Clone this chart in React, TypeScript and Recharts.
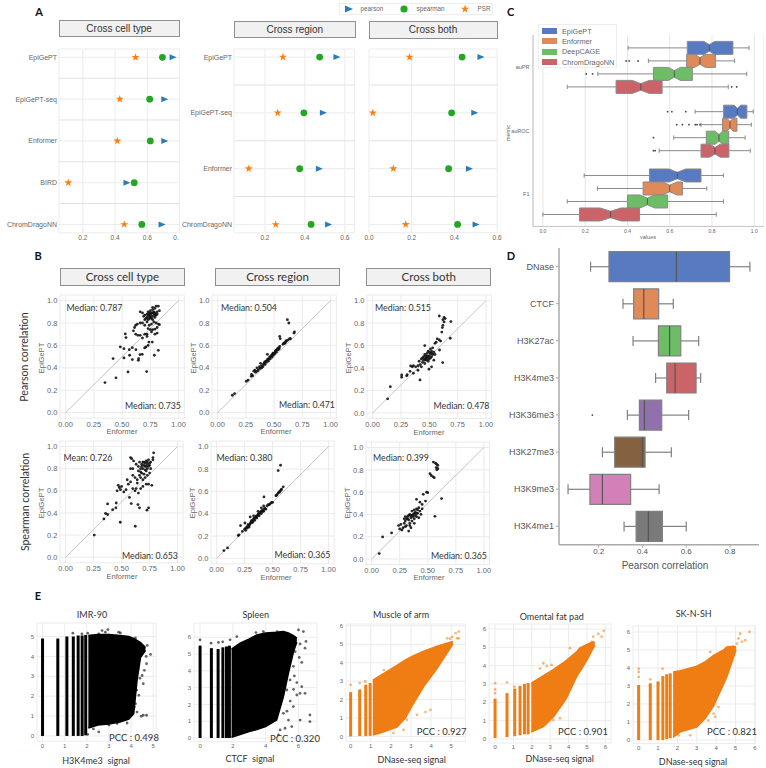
import {
  Area,
  Bar,
  BarChart,
  CartesianGrid,
  ComposedChart,
  Line,
  ReferenceLine,
  Scatter,
  ScatterChart,
  Symbols,
  XAxis,
  YAxis,
} from "recharts";

const ARIAL = "'Liberation Sans', Arial, sans-serif";
const CALIBRI = "Lato, 'Open Sans', sans-serif";
const BLUE = "#2b7bba";
const GREEN = "#22a722";
const STAR = "#ff7f0e";
const ORANGE = "#ef7d14";

// Panel A
const cellMethods = ["EpiGePT", "EpiGePT-seq", "Enformer", "BIRD", "ChromDragoNN"];
const cellPearson = [0.758, 0.707, 0.707, 0.472, 0.69];
const cellSpearman = [0.694, 0.615, 0.619, 0.519, 0.566];
const cellPsr = [0.527, 0.429, 0.414, 0.11, 0.457];
const otherMethods = ["EpiGePT", "EpiGePT-seq", "Enformer", "ChromDragoNN"];
const regionPearson = [0.559, 0.491, 0.471, 0.517];
const regionSpearman = [0.474, 0.395, 0.374, 0.431];
const regionPsr = [0.29, 0.264, 0.119, 0.254];
const bothPearson = [0.523, 0.494, 0.469, 0.5];
const bothSpearman = [0.436, 0.387, 0.373, 0.415];
const bothPsr = [0.19, 0.018, 0.114, 0.172];

// Panel B, [Enformer, EpiGePT]
const pearsonCell = [
  [0.348, 0.268], [0.445, 0.31], [0.552, 0.363], [0.717, 0.366], [0.42, 0.482], [0.484, 0.586], [0.516, 0.571],
  [0.528, 0.702], [0.534, 0.67], [0.516, 0.488], [0.563, 0.562], [0.566, 0.512], [0.59, 0.58], [0.622, 0.562],
  [0.59, 0.473], [0.643, 0.467], [0.646, 0.482], [0.658, 0.518], [0.678, 0.52], [0.699, 0.577], [0.711, 0.586],
  [0.73, 0.6], [0.737, 0.63], [0.767, 0.63], [0.785, 0.512], [0.82, 0.556], [0.72, 0.68], [0.76, 0.72],
  [0.62, 0.7], [0.64, 0.69], [0.66, 0.69], [0.68, 0.665], [0.7, 0.7], [0.72, 0.7], [0.79, 0.7], [0.81, 0.71],
  [0.6, 0.73], [0.61, 0.76], [0.62, 0.78], [0.635, 0.79], [0.66, 0.8], [0.68, 0.8], [0.7, 0.78], [0.72, 0.81],
  [0.73, 0.75], [0.75, 0.74], [0.77, 0.74], [0.79, 0.745], [0.81, 0.76], [0.83, 0.785], [0.74, 0.78], [0.76, 0.79],
  [0.78, 0.81], [0.8, 0.8], [0.82, 0.79], [0.66, 0.9], [0.68, 0.89], [0.7, 0.87], [0.72, 0.85], [0.7, 0.83],
  [0.73, 0.83], [0.74, 0.86], [0.75, 0.88], [0.76, 0.84], [0.77, 0.86], [0.78, 0.88], [0.79, 0.85], [0.8, 0.87],
  [0.73, 0.9], [0.75, 0.91], [0.77, 0.92], [0.79, 0.93], [0.81, 0.9], [0.83, 0.91], [0.8, 0.95], [0.77, 0.94],
  [0.82, 0.95], [0.72, 0.88], [0.76, 0.89], [0.78, 0.9], [0.74, 0.89], [0.79, 0.89], [0.81, 0.88], [0.69, 0.86],
  [0.71, 0.84], [0.75, 0.85], [0.77, 0.83], [0.73, 0.87], [0.75, 0.87], [0.77, 0.89], [0.79, 0.87], [0.74, 0.84],
];
const pearsonRegion = [
  [0.13, 0.155], [0.15, 0.17], [0.254, 0.28], [0.27, 0.29], [0.298, 0.324], [0.3, 0.34], [0.32, 0.37], [0.335, 0.36],
  [0.348, 0.4], [0.36, 0.38], [0.372, 0.393], [0.38, 0.4], [0.39, 0.42], [0.4, 0.41], [0.41, 0.44], [0.42, 0.43],
  [0.425, 0.46], [0.43, 0.45], [0.44, 0.47], [0.45, 0.46], [0.46, 0.497], [0.465, 0.48], [0.47, 0.5], [0.48, 0.495],
  [0.485, 0.52], [0.49, 0.51], [0.495, 0.53], [0.5, 0.52], [0.51, 0.55], [0.519, 0.557], [0.52, 0.54], [0.53, 0.57],
  [0.535, 0.56], [0.54, 0.58], [0.55, 0.59], [0.578, 0.61], [0.59, 0.62], [0.6, 0.63], [0.61, 0.64], [0.637, 0.66],
  [0.617, 0.83], [0.63, 0.8], [0.549, 0.68], [0.554, 0.66], [0.675, 0.71], [0.68, 0.72], [0.44, 0.52], [0.38, 0.44],
  [0.31, 0.33], [0.33, 0.38], [0.35, 0.37], [0.37, 0.41], [0.39, 0.4], [0.405, 0.43], [0.415, 0.45], [0.435, 0.46],
  [0.445, 0.48], [0.455, 0.48], [0.475, 0.51], [0.49, 0.53], [0.505, 0.53], [0.515, 0.54], [0.525, 0.56], [0.545, 0.57],
  [0.585, 0.62], [0.595, 0.62], [0.605, 0.64], [0.625, 0.65], [0.645, 0.66],
];
const pearsonBoth = [
  [0.132, 0.125], [0.156, 0.234], [0.256, 0.318], [0.256, 0.338], [0.3, 0.33], [0.305, 0.34], [0.418, 0.294],
  [0.335, 0.418], [0.359, 0.353], [0.36, 0.42], [0.38, 0.41], [0.4, 0.42], [0.41, 0.46], [0.42, 0.43], [0.43, 0.48],
  [0.44, 0.45], [0.45, 0.47], [0.45, 0.5], [0.46, 0.44], [0.46, 0.52], [0.47, 0.49], [0.47, 0.47], [0.48, 0.5],
  [0.48, 0.53], [0.49, 0.46], [0.49, 0.55], [0.5, 0.51], [0.5, 0.48], [0.51, 0.53], [0.51, 0.57], [0.52, 0.5],
  [0.52, 0.55], [0.53, 0.52], [0.53, 0.58], [0.54, 0.47], [0.54, 0.54], [0.55, 0.62], [0.56, 0.63], [0.497, 0.389],
  [0.52, 0.41], [0.59, 0.56], [0.618, 0.448], [0.46, 0.6], [0.588, 0.65], [0.6, 0.64], [0.61, 0.72], [0.615, 0.76],
  [0.62, 0.78], [0.588, 0.863], [0.62, 0.83], [0.63, 0.85], [0.63, 0.81], [0.64, 0.84], [0.69, 0.813], [0.685, 0.665],
  [0.35, 0.41], [0.33, 0.37], [0.4, 0.38], [0.43, 0.41], [0.55, 0.52], [0.57, 0.66],
  [0.44, 0.49], [0.46, 0.48], [0.48, 0.48], [0.5, 0.54], [0.52, 0.53], [0.47, 0.51], [0.49, 0.5], [0.51, 0.49],
];
const spearmanCell = [
  [0.256, 0.2], [0.342, 0.346], [0.357, 0.395], [0.375, 0.386], [0.375, 0.482], [0.42, 0.43], [0.449, 0.446],
  [0.452, 0.49], [0.488, 0.316], [0.622, 0.28], [0.726, 0.425], [0.741, 0.446], [0.586, 0.485], [0.646, 0.476],
  [0.66, 0.446], [0.77, 0.65], [0.786, 0.943], [0.58, 0.9], [0.59, 0.89], [0.607, 0.87], [0.58, 0.8], [0.6, 0.8],
  [0.46, 0.6], [0.47, 0.65], [0.48, 0.63], [0.49, 0.61], [0.5, 0.64], [0.52, 0.59], [0.54, 0.61], [0.57, 0.54],
  [0.56, 0.66], [0.58, 0.68], [0.6, 0.62], [0.62, 0.6], [0.63, 0.62], [0.65, 0.58], [0.67, 0.62], [0.69, 0.64],
  [0.72, 0.66], [0.74, 0.66], [0.55, 0.7], [0.62, 0.72], [0.64, 0.7], [0.65, 0.78], [0.66, 0.74], [0.67, 0.72],
  [0.68, 0.76], [0.69, 0.7], [0.7, 0.75], [0.71, 0.72], [0.72, 0.78], [0.73, 0.74], [0.75, 0.76], [0.76, 0.8],
  [0.63, 0.84], [0.65, 0.82], [0.66, 0.86], [0.67, 0.8], [0.68, 0.84], [0.69, 0.86], [0.7, 0.83], [0.71, 0.85],
  [0.72, 0.82], [0.72, 0.87], [0.73, 0.84], [0.74, 0.88], [0.75, 0.83], [0.76, 0.86], [0.78, 0.88], [0.78, 0.9],
  [0.67, 0.77], [0.69, 0.8], [0.71, 0.79], [0.73, 0.8], [0.64, 0.67], [0.6, 0.74],
  [0.68, 0.82], [0.7, 0.86], [0.71, 0.82], [0.73, 0.86], [0.74, 0.82], [0.75, 0.85],
];
const spearmanRegion = [
  [0.065, 0.069], [0.098, 0.093], [0.193, 0.203], [0.2, 0.21], [0.214, 0.293], [0.253, 0.316], [0.23, 0.24],
  [0.25, 0.26], [0.26, 0.25], [0.27, 0.28], [0.28, 0.3], [0.29, 0.28], [0.3, 0.31], [0.3, 0.37], [0.31, 0.33],
  [0.32, 0.32], [0.33, 0.35], [0.33, 0.38], [0.34, 0.34], [0.35, 0.37], [0.36, 0.36], [0.37, 0.39], [0.38, 0.38],
  [0.39, 0.41], [0.4, 0.4], [0.41, 0.43], [0.42, 0.42], [0.43, 0.45], [0.44, 0.44], [0.45, 0.47], [0.47, 0.48],
  [0.49, 0.5], [0.423, 0.549], [0.53, 0.56], [0.54, 0.57], [0.55, 0.585], [0.565, 0.6], [0.58, 0.62], [0.595, 0.64],
  [0.55, 0.785], [0.571, 0.833], [0.4, 0.45], [0.37, 0.42],
  [0.26, 0.27], [0.275, 0.27], [0.285, 0.29], [0.295, 0.3], [0.305, 0.32], [0.315, 0.34], [0.325, 0.33], [0.335, 0.36],
  [0.345, 0.36], [0.355, 0.38], [0.365, 0.38], [0.375, 0.4], [0.385, 0.4], [0.395, 0.42], [0.405, 0.42], [0.415, 0.42],
  [0.42, 0.47], [0.425, 0.44], [0.46, 0.48], [0.48, 0.49], [0.5, 0.5], [0.535, 0.565], [0.56, 0.59], [0.575, 0.61],
];
const spearmanBoth = [
  [0.068, 0.048], [0.098, 0.198], [0.178, 0.234], [0.55, 0.87], [0.57, 0.86], [0.58, 0.85], [0.59, 0.84], [0.575, 0.82],
  [0.59, 0.81], [0.58, 0.8], [0.52, 0.766], [0.53, 0.75], [0.545, 0.74], [0.558, 0.73], [0.623, 0.542], [0.564, 0.383],
  [0.49, 0.6], [0.5, 0.595], [0.46, 0.58], [0.4, 0.535], [0.43, 0.51], [0.45, 0.49], [0.48, 0.52], [0.24, 0.3],
  [0.25, 0.27], [0.26, 0.31], [0.28, 0.28], [0.29, 0.36], [0.29, 0.32], [0.3, 0.38], [0.3, 0.34], [0.31, 0.3],
  [0.31, 0.36], [0.32, 0.38], [0.33, 0.25], [0.33, 0.35], [0.34, 0.4], [0.34, 0.32], [0.35, 0.37], [0.36, 0.43],
  [0.36, 0.34], [0.37, 0.4], [0.38, 0.44], [0.38, 0.36], [0.39, 0.42], [0.4, 0.38], [0.4, 0.45], [0.41, 0.41],
  [0.42, 0.46], [0.42, 0.37], [0.43, 0.43], [0.44, 0.4], [0.45, 0.45], [0.34, 0.3], [0.36, 0.39], [0.38, 0.32],
  [0.27, 0.26], [0.3, 0.29], [0.35, 0.28],
  [0.32, 0.36], [0.33, 0.39], [0.35, 0.39], [0.37, 0.38], [0.38, 0.41], [0.39, 0.39], [0.4, 0.41], [0.41, 0.44],
];

// Panel C
const metricNames = ["auPR", "auROC", "F1"];
const cModels = ["EpiGePT", "Enformer", "DeepCAGE", "ChromDragoNN"];
const cColors = ["#587ac0", "#e08a5a", "#6dbd66", "#cb6468"];
const epiBoxes = [[0.403, 0.683, 0.787, 0.899, 0.975], [0.72, 0.855, 0.92, 0.965, 0.995], [0.195, 0.504, 0.636, 0.748, 0.854]];
const enfBoxes = [[0.499, 0.68, 0.743, 0.816, 0.907], [0.748, 0.85, 0.885, 0.918, 0.986], [0.258, 0.474, 0.6, 0.66, 0.775]];
const cageBoxes = [[0.26, 0.523, 0.622, 0.707, 0.964], [0.619, 0.773, 0.833, 0.879, 0.957], [0.115, 0.4, 0.494, 0.59, 0.854]];
const chromBoxes = [[0.115, 0.346, 0.463, 0.564, 0.877], [0.55, 0.748, 0.814, 0.88, 0.981], [0.0, 0.173, 0.32, 0.457, 0.82]];
const epiNotch = [0.025, 0.015, 0.04];
const enfNotch = [0.025, 0.015, 0.035];
const cageNotch = [0.028, 0.018, 0.035];
const chromNotch = [0.04, 0.025, 0.05];
const epiOut = [[], [0.59, 0.61, 0.676], []];
const enfOut = [[0.394, 0.408, 0.45], [0.633, 0.66, 0.691, 0.721, 0.729, 0.743], []];
const cageOut = [[0.205, 0.235], [0.523], []];
const chromOut = [[0.893, 0.917], [0.523, 0.531], []];

// Panel D
const marks = ["DNase", "CTCF", "H3K27ac", "H3K4me3", "H3K36me3", "H3K27me3", "H3K9me3", "H3K4me1"];
const markColors = ["#587ac0", "#e08a5a", "#6dbd66", "#cb6468", "#9170ae", "#84613f", "#d380b8", "#7a7a7a"];
const markBoxes = [
  [0.163, 0.247, 0.555, 0.798, 0.891],
  [0.311, 0.36, 0.406, 0.474, 0.541],
  [0.357, 0.473, 0.524, 0.575, 0.657],
  [0.46, 0.511, 0.549, 0.645, 0.666],
  [0.331, 0.386, 0.409, 0.488, 0.611],
  [0.217, 0.273, 0.4, 0.412, 0.532],
  [0.06, 0.16, 0.217, 0.346, 0.476],
  [0.316, 0.371, 0.427, 0.491, 0.6],
];
const markOut = [[], [], [], [], [0.171], [], [], []];

// Panel E, dense clouds read as stripes + upper/lower envelope + stragglers
const imrStripes = [[0, 0, 4.9], [0.69, 0, 4.9], [1.1, 0, 5.0], [1.39, 0, 5.0], [1.61, 0, 5.05], [1.79, 0, 5.05], [1.95, 0.03, 5.08]];
const imrX = [2.07, 2.5, 3, 3.5, 3.9, 4.12, 4.27, 4.43, 4.65];
const imrLo = [0.4, 0.55, 0.6, 0.7, 0.85, 1.12, 2.8, 3.96, 4.3];
const imrHi = [5.05, 5.1, 5.1, 5.05, 5.0, 4.9, 4.8, 4.7, 4.45];
const imrOut = [
  [2.95, 5.35], [2.84, 5.22], [2.69, 5.3], [2.54, 5.13], [3.44, 5.22], [3.52, 5.18], [1.37, 5.17], [1.78, 5.13],
  [2.04, 5.17], [4.88, 4.1], [4.68, 4], [4.7, 3.63], [4.6, 3.3], [4.5, 3.04], [4.55, 2.63], [4.35, 2.04], [4.2, 1.62],
  [4.27, 1.2], [4.55, 1.04], [4.7, 1.04], [4.46, 0.99], [2.54, 0.2], [2.04, 0.08], [3.37, 0.62], [3.82, 0.65],
  [4.73, 4.55], [4.2, 4.93], [4.58, 4.46], [4.32, 3.4], [4.4, 2.9], [4.25, 2.3], [4.15, 1.45], [2.3, 0.35], [3, 0.55],
];
const spleenStripes = [[0, 0, 5.5], [0.69, 0, 5.35], [1.1, 0, 5.3], [1.39, 0, 5.4], [1.61, 0, 5.45], [1.79, 0, 5.5]];
const spleenX = [1.92, 2.44, 3, 3.46, 4, 4.67, 5.08, 5.39, 5.7, 5.9];
const spleenLo = [0.05, 0.2, 0.38, 0.5, 0.68, 1.07, 2.46, 3.86, 5.15, 5.7];
const spleenHi = [5.3, 5.65, 5.9, 6.14, 6.25, 6.3, 6.34, 6.25, 6.1, 5.95];
const spleenOut = [
  [3.41, 6.28], [3.86, 6.34], [4.7, 6.34], [6, 6.44], [6.3, 6.34], [6.46, 5.75], [6.4, 5.35], [6.1, 5.6], [5.8, 5.15],
  [1.83, 5.85], [2.24, 6.04], [6.2, 3.06], [6.1, 2.66], [5.9, 2.56], [6.4, 2.66], [6.7, 1.37], [6.7, 0.97], [6.1, 1.07],
  [5.59, 0.68], [5.18, 0.58], [4.88, 0.48], [5.69, 4.27], [5.49, 3.46], [5.29, 2.86], [5.69, 1.87], [5.08, 1.47],
  [5.39, 1.07], [4.78, 0.18], [0, 5.85], [0.67, 5.65], [1.12, 5.69], [1.38, 5.73], [6.05, 4.8], [5.75, 3.7], [5.5, 2.2],
  [6.2, 4.5], [5.3, 1.6], [5.7, 2.9], [5.9, 3.3],
];
const muscleStripes = [[0, 0, 2.4], [0.45, 0.02, 2.55], [0.75, 0.02, 2.8], [0.97, 0.03, 2.9]];
const muscleX = [1.1, 1.47, 2.3, 2.72, 3.13, 3.63, 4.3, 5.05, 5.08];
const muscleLo = [0.08, 0.18, 0.5, 1.0, 1.8, 2.7, 3.7, 4.96, 5.0];
const muscleHi = [3.05, 3.3, 3.85, 4.15, 4.38, 4.62, 4.9, 5.14, 5.1];
const muscleOut = [
  [5.38, 5.69], [5.22, 5.6], [5.3, 5.32], [5.38, 5.32], [4.8, 5.32], [3.97, 1.44], [3.72, 1.32], [3.3, 1.17], [2.8, 0.9],
  [2.13, 0.18], [2.63, 0.36], [0, 2.8], [0.45, 2.9], [0.73, 2.98], [1.65, 3.6], [5.05, 5.4], [4.95, 5.3],
];
const omentalStripes = [[0, 0.05, 2.2], [0.65, 0.1, 2.5], [1.07, 0.15, 2.75], [1.36, 0.2, 2.9], [1.6, 0.25, 3.0], [1.8, 0.25, 3.05]];
const omentalX = [1.97, 2.63, 3.17, 3.7, 3.9, 4.44, 4.6, 5, 5.34, 5.43];
const omentalLo = [0.38, 0.67, 1.2, 1.95, 2.25, 3.4, 3.65, 4.3, 4.95, 5.1];
const omentalHi = [3.05, 3.45, 3.78, 4.15, 4.3, 4.75, 4.95, 5.15, 5.3, 5.25];
const omentalOut = [
  [5.92, 5.9], [5.62, 5.73], [5.8, 5.58], [5.34, 5.58], [5.25, 5.3], [2.63, 4.13], [2.81, 3.98], [3.08, 4.04], [2.45, 3.85],
  [3.35, 3.85], [0, 3.04], [0.65, 3.09], [1.05, 2.85], [4.08, 4.95], [3.53, 1.13], [3.17, 1.04], [0, 2.5], [0, 2.7],
];
const sknshStripes = [[0, 0, 3.05], [0.6, 0, 3.15], [1, 0, 3.25], [1.25, 0, 3.55], [1.45, 0.05, 3.65], [1.63, 0.1, 3.7]];
const sknshX = [1.78, 2.15, 3, 3.44, 3.87, 4.38, 4.55, 4.9, 5.03];
const sknshLo = [0.15, 0.45, 0.72, 1.2, 1.9, 3.1, 3.5, 4.6, 5.0];
const sknshHi = [3.78, 3.85, 4.1, 4.35, 4.7, 5.0, 5.17, 5.2, 5.17];
const sknshOut = [
  [5.72, 6], [5.24, 5.9], [5.15, 5.63], [5.5, 5.54], [5.33, 5.45], [5.07, 5.35], [0, 3.96], [0, 3.78], [0, 3.5], [0.6, 3.37],
  [1.03, 3.13], [1.24, 3.96], [3.69, 4.89], [4.12, 1.83], [3.87, 1.46], [3.95, 1.28], [3.6, 1.09], [2.66, 0.26], [2.06, 0.26],
];

function Txt({ x, y, children, size = 8, color = "#333", font = ARIAL, rotate = 0, weight = 400 }: any) {
  return (
    <div
      style={{
        position: "absolute",
        left: x,
        top: y,
        transform: `translate(-50%, -50%) rotate(${rotate}deg)`,
        whiteSpace: "pre",
        fontFamily: font,
        fontSize: size,
        fontWeight: weight,
        color,
        lineHeight: 1,
      }}
    >
      {children}
    </div>
  );
}

function TitleBox({ x0, x1, y0, y1, children, size, font }: any) {
  return (
    <div
      style={{
        position: "absolute",
        left: x0,
        top: y0,
        width: x1 - x0,
        height: y1 - y0,
        boxSizing: "border-box",
        border: "1px solid #8f8f8f",
        background: "#f1f1f1",
        display: "flex",
        alignItems: "center",
        justifyContent: "center",
        fontFamily: font,
        fontSize: size,
        color: "#333",
      }}
    >
      {children}
    </div>
  );
}

const Triangle = (p: any) => (
  <polygon points={`${p.cx - 3.2},${p.cy - 3} ${p.cx + 3.8},${p.cy} ${p.cx - 3.2},${p.cy + 3}`} fill={BLUE} />
);
const Dot = (p: any) => <circle cx={p.cx} cy={p.cy} r={3.4} fill={GREEN} />;
const StarMark = (p: any) => <Symbols type="star" size={20} cx={p.cx} cy={p.cy} fill={STAR} />;

function DotPanel({ plot, domain, ticks, names, pearson, spearman, psr, clipLast, rowDomain }: any) {
  const [x0, y0, x1, y1] = plot;
  const l = 58;
  const b = 14;
  const t = 2;
  const r = 8;
  const rows = names.map((_: string, i: number) => i);
  const pts = (vals: number[]) => vals.map((v, i) => ({ x: v, y: i }));
  // the first panel's last label is cut by the neighbouring panel in the figure
  const xTick = (p: any) => {
    const cut = clipLast && p.payload.value === 0.8;
    return (
      <text x={p.x - (cut ? 3.5 : 0)} y={p.y + 5.5} textAnchor="middle" fontSize={6.5} fill="#666" fontFamily={ARIAL}>
        {cut ? "0." : p.payload.value.toFixed(1)}
      </text>
    );
  };
  return (
    <div style={{ position: "absolute", left: x0 - l, top: y0 - t }}>
      <ScatterChart width={x1 - x0 + l + r} height={y1 - y0 + t + b} margin={{ top: t, right: r, bottom: 0, left: 0 }}>
        <CartesianGrid stroke="#ececec" />
        <XAxis
          type="number"
          dataKey="x"
          domain={domain}
          ticks={ticks}
          allowDataOverflow
          height={b}
          axisLine={false}
          tickLine={false}
          tickSize={0}
          interval={0}
          tick={xTick}
        />
        <YAxis
          type="number"
          dataKey="y"
          reversed
          domain={rowDomain}
          ticks={rows}
          interval={0}
          width={l}
          axisLine={false}
          tickLine={false}
          tickSize={0}
          tickFormatter={(i: number) => names[i]}
          tick={{ fontSize: 7, fill: "#666", fontFamily: ARIAL }}
          tickMargin={2}
        />
        {rows.slice(0, -1).map((i: number) => (
          <ReferenceLine key={i} y={i + 0.5} stroke="#e2e2e2" />
        ))}
        <Scatter data={pts(pearson)} shape={Triangle} isAnimationActive={false} />
        <Scatter data={pts(spearman)} shape={Dot} isAnimationActive={false} />
        <Scatter data={pts(psr)} shape={StarMark} isAnimationActive={false} />
      </ScatterChart>
    </div>
  );
}

const SmallDot = (p: any) => <circle cx={p.cx} cy={p.cy} r={1.4} fill="#111" fillOpacity={0.9} />;

function PairPanel({ zeroX, oneX, oneY, zeroY, points }: any) {
  const dx = (oneX - zeroX) * 0.05;
  const dy = (zeroY - oneY) * 0.05;
  const l = 22;
  const b = 16;
  const t = 2;
  const r = 10;
  const w = oneX - zeroX + 2 * dx;
  const h = zeroY - oneY + 2 * dy;
  return (
    <div style={{ position: "absolute", left: zeroX - dx - l, top: oneY - dy - t }}>
      <ScatterChart width={w + l + r} height={h + t + b} margin={{ top: t, right: r, bottom: 0, left: 0 }}>
        <CartesianGrid stroke="#ebebeb" />
        <XAxis
          type="number"
          dataKey="x"
          domain={[-0.05, 1.05]}
          ticks={[0, 0.25, 0.5, 0.75, 1]}
          height={b}
          interval={0}
          axisLine={false}
          tickLine={false}
          tickSize={0}
          tickFormatter={(v: number) => v.toFixed(2)}
          tick={{ fontSize: 7.5, fill: "#666", fontFamily: ARIAL }}
          tickMargin={3}
        />
        <YAxis
          type="number"
          dataKey="y"
          domain={[-0.05, 1.05]}
          ticks={[0, 0.2, 0.4, 0.6, 0.8, 1]}
          width={l}
          interval={0}
          axisLine={false}
          tickLine={false}
          tickSize={0}
          tickFormatter={(v: number) => v.toFixed(1)}
          tick={{ fontSize: 7.5, fill: "#666", fontFamily: ARIAL }}
          tickMargin={2.5}
        />
        <ReferenceLine segment={[{ x: 0, y: 0 }, { x: 1, y: 1 }]} stroke="#c4c4c4" />
        <Scatter data={points.map(([x, y]: number[]) => ({ x, y }))} shape={SmallDot} isAnimationActive={false} />
      </ScatterChart>
    </div>
  );
}

// q1..q3 is the bar itself, so the bar's pixel width gives the scale for everything else
function BoxShape({ x, y, width, height, stats, notch, outliers, fill, stroke, sw }: any) {
  const [lo, q1, med, q3, hi] = stats;
  const k = width / (q3 - q1);
  const X = (v: number) => x + (v - q1) * k;
  const cy = y + height / 2;
  const cap = height / 6;
  const inset = notch ? height * 0.25 : 0;
  const body = notch
    ? [
        [X(q1), y], [X(med - notch), y], [X(med), y + inset], [X(med + notch), y], [X(q3), y],
        [X(q3), y + height], [X(med + notch), y + height], [X(med), y + height - inset],
        [X(med - notch), y + height], [X(q1), y + height],
      ]
    : [[X(q1), y], [X(q3), y], [X(q3), y + height], [X(q1), y + height]];
  return (
    <g>
      <line x1={X(lo)} x2={X(q1)} y1={cy} y2={cy} stroke={stroke} strokeWidth={sw} />
      <line x1={X(q3)} x2={X(hi)} y1={cy} y2={cy} stroke={stroke} strokeWidth={sw} />
      <line x1={X(lo)} x2={X(lo)} y1={cy - cap} y2={cy + cap} stroke={stroke} strokeWidth={sw} />
      <line x1={X(hi)} x2={X(hi)} y1={cy - cap} y2={cy + cap} stroke={stroke} strokeWidth={sw} />
      <polygon points={body.map((p) => p.join(",")).join(" ")} fill={fill} stroke={stroke} strokeWidth={sw} />
      <line x1={X(med)} x2={X(med)} y1={y + inset} y2={y + height - inset} stroke="#555" strokeWidth={sw} />
      {outliers.map((v: number, i: number) => (
        <circle key={i} cx={X(v)} cy={cy} r={0.9} fill="#444" />
      ))}
    </g>
  );
}

const cSeries = [
  { boxes: epiBoxes, notch: epiNotch, out: epiOut },
  { boxes: enfBoxes, notch: enfNotch, out: enfOut },
  { boxes: cageBoxes, notch: cageNotch, out: cageOut },
  { boxes: chromBoxes, notch: chromNotch, out: chromOut },
];
const cRows = metricNames.map((metric, m) => {
  const row: any = { metric };
  cModels.forEach((name, s) => {
    row[name] = [cSeries[s].boxes[m][1], cSeries[s].boxes[m][3]];
  });
  return row;
});
const dRows = marks.map((mark, i) => ({ mark, box: [markBoxes[i][1], markBoxes[i][3]] }));

function PanelC() {
  const l = 26;
  return (
    <div style={{ position: "absolute", left: 532.7 - l, top: 35.3 }}>
      <BarChart
        layout="vertical"
        width={l + 231}
        height={191.4 + 12}
        data={cRows}
        barCategoryGap="10%"
        barGap={0}
        margin={{ top: 0, right: 0, bottom: 0, left: 0 }}
      >
        <CartesianGrid horizontal={false} stroke="#e6e6e6" />
        <XAxis
          type="number"
          domain={[-0.047, 1.046]}
          ticks={[0, 0.2, 0.4, 0.6, 0.8, 1]}
          height={12}
          interval={0}
          tickLine={false}
          tickSize={0}
          axisLine={{ stroke: "#c4c4c4" }}
          tickFormatter={(v: number) => v.toFixed(1)}
          tick={{ fontSize: 5, fill: "#666", fontFamily: ARIAL }}
          tickMargin={3}
        />
        <YAxis
          type="category"
          dataKey="metric"
          width={l}
          tickLine={false}
          tickSize={0}
          axisLine={{ stroke: "#c4c4c4" }}
          tick={{ fontSize: 5.5, fill: "#666", fontFamily: ARIAL }}
          tickMargin={3.5}
        />
        {cModels.map((name, s) => (
          <Bar
            key={name}
            dataKey={name}
            isAnimationActive={false}
            shape={(p: any) => (
              <BoxShape
                {...p}
                stats={cSeries[s].boxes[p.index]}
                notch={cSeries[s].notch[p.index]}
                outliers={cSeries[s].out[p.index]}
                fill={cColors[s]}
                stroke="#8a8a8a"
                sw={1}
              />
            )}
          />
        ))}
      </BarChart>
    </div>
  );
}

function PanelD() {
  const l = 59;
  return (
    <div style={{ position: "absolute", left: 559 - l, top: 248.3 }}>
      <BarChart
        layout="vertical"
        width={l + 200.3}
        height={296.8 + 16}
        data={dRows}
        barCategoryGap="10%"
        margin={{ top: 0, right: 0, bottom: 0, left: 0 }}
      >
        <XAxis
          type="number"
          domain={[0.0186, 0.934]}
          ticks={[0.2, 0.4, 0.6, 0.8]}
          height={16}
          interval={0}
          axisLine={{ stroke: "#aaa", strokeWidth: 1.5 }}
          tickLine={{ stroke: "#aaa" }}
          tickSize={3}
          tickMargin={1}
          tickFormatter={(v: number) => v.toFixed(1)}
          tick={{ fontSize: 8, fill: "#555", fontFamily: ARIAL }}
        />
        <YAxis
          type="category"
          dataKey="mark"
          width={l}
          interval={0}
          axisLine={{ stroke: "#aaa", strokeWidth: 1.5 }}
          tickLine={{ stroke: "#aaa" }}
          tickSize={3}
          tick={{ fontSize: 9, fill: "#555", fontFamily: ARIAL }}
        />
        <Bar
          dataKey="box"
          isAnimationActive={false}
          shape={(p: any) => (
            <BoxShape
              {...p}
              stats={markBoxes[p.index]}
              outliers={markOut[p.index]}
              fill={markColors[p.index]}
              stroke="#808080"
              sw={1.2}
            />
          )}
        />
      </BarChart>
    </div>
  );
}

function CloudPanel({ plot, xDomain, yDomain, xTicks, yTicks, stripes, bandX, bandLo, bandHi, outliers, color, outAlpha, stripeWidth }: any) {
  const [x0, y0, x1, y1] = plot;
  const l = 12;
  const b = 14;
  const t = 2;
  const r = 6;
  const band = bandX.map((x: number, i: number) => ({ x, band: [bandLo[i], bandHi[i]] }));
  const strag = outliers.map(([x, y]: number[]) => ({ x, y }));
  const OutDot = (p: any) => <circle cx={p.cx} cy={p.cy} r={1.4} fill={color} fillOpacity={outAlpha} />;
  return (
    <div style={{ position: "absolute", left: x0 - l, top: y0 - t }}>
      <ComposedChart width={x1 - x0 + l + r} height={y1 - y0 + t + b} margin={{ top: t, right: r, bottom: 0, left: 0 }}>
        <CartesianGrid stroke="#ececec" />
        <XAxis
          type="number"
          dataKey="x"
          domain={xDomain}
          ticks={xTicks}
          height={b}
          interval={0}
          axisLine={false}
          tickLine={false}
          tickSize={0}
          allowDuplicatedCategory={false}
          tick={{ fontSize: 6, fill: "#666", fontFamily: ARIAL }}
          tickMargin={2}
        />
        <YAxis
          type="number"
          domain={yDomain}
          ticks={yTicks}
          width={l}
          interval={0}
          axisLine={false}
          tickLine={false}
          tickSize={0}
          tick={{ fontSize: 6, fill: "#666", fontFamily: ARIAL }}
          tickMargin={3}
        />
        {stripes.map(([x, lo, hi]: number[]) => (
          <Line
            key={x}
            data={[{ x, y: lo }, { x, y: hi }]}
            dataKey="y"
            stroke={color}
            strokeWidth={stripeWidth}
            dot={false}
            isAnimationActive={false}
          />
        ))}
        <Area data={band} dataKey="band" stroke={color} strokeWidth={1.5} fill={color} fillOpacity={1} isAnimationActive={false} />
        <Scatter data={strag} dataKey="y" shape={OutDot} isAnimationActive={false} />
      </ComposedChart>
    </div>
  );
}

export default function App() {
  return (
    <div style={{ position: "absolute", left: 0, top: 0, width: 766, height: 768, overflow: "hidden", background: "#fff" }}>
      {/* A */}
      <Txt x={39} y={11} size={11} weight={700} color="#111" font={CALIBRI}>A</Txt>
      <TitleBox x0={58.5} x1={179.8} y0={20} y1={36.5} size={10} font={ARIAL}>Cross cell type</TitleBox>
      <TitleBox x0={234} x1={355.7} y0={21.3} y1={37.9} size={10} font={ARIAL}>Cross region</TitleBox>
      <TitleBox x0={368.5} x1={497.6} y0={21.3} y1={38.6} size={10} font={ARIAL}>Cross both</TitleBox>
      <DotPanel
        plot={[58.5, 49.2, 179, 233]}
        domain={[0.052, 0.8]}
        ticks={[0.2, 0.4, 0.6, 0.8]}
        names={cellMethods}
        pearson={cellPearson}
        spearman={cellSpearman}
        psr={cellPsr}
        clipLast
        rowDomain={[-0.2, 4.2]}
      />
      <DotPanel
        plot={[234.2, 49.2, 354.7, 233]}
        domain={[0.045, 0.6485]}
        ticks={[0.2, 0.4, 0.6]}
        names={otherMethods}
        pearson={regionPearson}
        spearman={regionSpearman}
        psr={regionPsr}
        rowDomain={[-0.145, 3.15]}
      />
      <DotPanel
        plot={[368.5, 49.2, 496.6, 233]}
        domain={[0, 0.6]}
        ticks={[0, 0.2, 0.4, 0.6]}
        names={["", "", "", ""]}
        pearson={bothPearson}
        spearman={bothSpearman}
        psr={bothPsr}
        rowDomain={[-0.145, 3.15]}
      />
      <div style={{ position: "absolute", left: 339, top: 3, width: 154, height: 12, border: "1px solid #eee", boxSizing: "border-box" }} />
      <svg style={{ position: "absolute", left: 0, top: 0 }} width={500} height={20}>
        <polygon points="345,5.5 353,9 345,12.5" fill={BLUE} />
        <circle cx={404} cy={9} r={3.6} fill={GREEN} />
        <Symbols type="star" size={22} cx={465} cy={9} fill={STAR} />
      </svg>
      <Txt x={372} y={9} size={6.3} color="#666">pearson</Txt>
      <Txt x={430.5} y={9} size={6.3} color="#666">spearman</Txt>
      <Txt x={484} y={9} size={6.3} color="#666">PSR</Txt>

      {/* B */}
      <Txt x={38} y={255} size={11} weight={700} color="#111" font={CALIBRI}>B</Txt>
      <TitleBox x0={60} x1={184.7} y0={268.3} y1={285.7} size={11.5} font={CALIBRI}>Cross cell type</TitleBox>
      <TitleBox x0={215} x1={340} y0={268.3} y1={285.7} size={11.5} font={CALIBRI}>Cross region</TitleBox>
      <TitleBox x0={366.3} x1={491.3} y0={268.3} y1={285.7} size={11.5} font={CALIBRI}>Cross both</TitleBox>
      <Txt x={24} y={356.7} size={10.5} rotate={-90} font={CALIBRI}>Pearson correlation</Txt>
      <Txt x={24.5} y={501.7} size={10.5} rotate={-90} font={CALIBRI}>Spearman correlation</Txt>
      <PairPanel zeroX={65.7} oneX={178.7} oneY={300.3} zeroY={412.3} points={pearsonCell} />
      <PairPanel zeroX={218} oneX={331} oneY={300.3} zeroY={412.3} points={pearsonRegion} />
      <PairPanel zeroX={372.7} oneX={486} oneY={300.7} zeroY={413} points={pearsonBoth} />
      <PairPanel zeroX={65.3} oneX={177.3} oneY={447} zeroY={557.7} points={spearmanCell} />
      <PairPanel zeroX={216.7} oneX={328.7} oneY={447} zeroY={558.7} points={spearmanRegion} />
      <PairPanel zeroX={371.7} oneX={484} oneY={447.3} zeroY={558.7} points={spearmanBoth} />
      <Txt x={94.5} y={308} size={8.8} font={CALIBRI}>Median: 0.787</Txt>
      <Txt x={153} y={405.5} size={8.8} font={CALIBRI}>Median: 0.735</Txt>
      <Txt x={249} y={308} size={8.8} font={CALIBRI}>Median: 0.504</Txt>
      <Txt x={307} y={405} size={8.8} font={CALIBRI}>Median: 0.471</Txt>
      <Txt x={403} y={308} size={8.8} font={CALIBRI}>Median: 0.515</Txt>
      <Txt x={461.5} y={405.5} size={8.8} font={CALIBRI}>Median: 0.478</Txt>
      <Txt x={88} y={458} size={8.8} font={CALIBRI}>Mean: 0.726</Txt>
      <Txt x={150} y={556} size={8.8} font={CALIBRI}>Median: 0.653</Txt>
      <Txt x={244.5} y={458} size={8.8} font={CALIBRI}>Median: 0.380</Txt>
      <Txt x={302.5} y={555} size={8.8} font={CALIBRI}>Median: 0.365</Txt>
      <Txt x={401} y={458} size={8.8} font={CALIBRI}>Median: 0.399</Txt>
      <Txt x={459} y={556} size={8.8} font={CALIBRI}>Median: 0.365</Txt>
      {[[122, 431.5], [276, 431.5], [429, 432.5], [122, 577], [276, 578], [429, 578]].map(([x, y]) => (
        <Txt key={`${x}-${y}`} x={x} y={y} size={7.5} color="#666">Enformer</Txt>
      ))}
      {[[41.5, 358], [194, 358], [349, 358], [41.5, 503], [193, 503], [348, 503]].map(([x, y]) => (
        <Txt key={`${x}-${y}`} x={x} y={y} size={7.5} color="#666" rotate={-90}>EpiGePT</Txt>
      ))}

      {/* C */}
      <Txt x={510.7} y={11} size={11} weight={700} color="#111" font={CALIBRI}>C</Txt>
      <PanelC />
      <Txt x={507.6} y={133} size={6} color="#666" rotate={-90}>metric</Txt>
      <Txt x={648} y={238} size={5.5} color="#666">values</Txt>
      <div style={{ position: "absolute", left: 538, top: 24, width: 79, height: 44, background: "rgba(255,255,255,0.85)", border: "1px solid #eee", boxSizing: "border-box" }}>
        {cModels.map((name, i) => (
          <div key={name} style={{ position: "absolute", left: 3, top: 1 + i * 10.4, height: 10, display: "flex", alignItems: "center", fontFamily: ARIAL, fontSize: 7.3, color: "#666" }}>
            <span style={{ display: "inline-block", width: 15, height: 6, background: cColors[i], marginRight: 5 }} />
            {name}
          </div>
        ))}
      </div>

      {/* D */}
      <PanelD />
      <Txt x={511} y={255} size={11} weight={700} color="#111" font={CALIBRI}>D</Txt>
      <Txt x={665} y={566} size={10} color="#555">Pearson correlation</Txt>

      {/* E */}
      <Txt x={38} y={595} size={11} weight={700} color="#111" font={CALIBRI}>E</Txt>
      <CloudPanel
        plot={[36.7, 622.7, 156, 741]}
        xDomain={[-0.25, 5.14]}
        yDomain={[-0.27, 5.68]}
        xTicks={[0, 1, 2, 3, 4, 5]}
        yTicks={[0, 1, 2, 3, 4, 5]}
        stripes={imrStripes}
        bandX={imrX}
        bandLo={imrLo}
        bandHi={imrHi}
        outliers={imrOut}
        color="#000"
        outAlpha={0.6}
        stripeWidth={3}
      />
      <CloudPanel
        plot={[194, 623, 317, 741.7]}
        xDomain={[-0.37, 7.13]}
        yDomain={[-0.22, 6.85]}
        xTicks={[0, 2, 4, 6]}
        yTicks={[0, 1, 2, 3, 4, 5, 6]}
        stripes={spleenStripes}
        bandX={spleenX}
        bandLo={spleenLo}
        bandHi={spleenHi}
        outliers={spleenOut}
        color="#000"
        outAlpha={0.6}
        stripeWidth={3}
      />
      <CloudPanel
        plot={[345.7, 624.3, 465, 741.7]}
        xDomain={[-0.23, 5.7]}
        yDomain={[-0.27, 6.1]}
        xTicks={[0, 1, 2, 3, 4, 5]}
        yTicks={[0, 1, 2, 3, 4, 5, 6]}
        stripes={muscleStripes}
        bandX={muscleX}
        bandLo={muscleLo}
        bandHi={muscleHi}
        outliers={muscleOut}
        color={ORANGE}
        outAlpha={0.55}
        stripeWidth={3}
      />
      <CloudPanel
        plot={[489, 624, 611, 743]}
        xDomain={[-0.33, 6.31]}
        yDomain={[-0.22, 6.27]}
        xTicks={[0, 1, 2, 3, 4, 5, 6]}
        yTicks={[0, 1, 2, 3, 4, 5, 6]}
        stripes={omentalStripes}
        bandX={omentalX}
        bandLo={omentalLo}
        bandHi={omentalHi}
        outliers={omentalOut}
        color={ORANGE}
        outAlpha={0.55}
        stripeWidth={3}
      />
      <CloudPanel
        plot={[632.7, 625.7, 755, 743.3]}
        xDomain={[-0.29, 6.02]}
        yDomain={[-0.2, 6.33]}
        xTicks={[0, 1, 2, 3, 4, 5, 6]}
        yTicks={[0, 1, 2, 3, 4, 5, 6]}
        stripes={sknshStripes}
        bandX={sknshX}
        bandLo={sknshLo}
        bandHi={sknshHi}
        outliers={sknshOut}
        color={ORANGE}
        outAlpha={0.55}
        stripeWidth={3}
      />
      <Txt x={92} y={614} size={9} font={CALIBRI}>IMR-90</Txt>
      <Txt x={255.7} y={614} size={9} font={CALIBRI}>Spleen</Txt>
      <Txt x={401} y={614} size={9} font={CALIBRI}>Muscle of arm</Txt>
      <Txt x={551.7} y={616} size={9} font={CALIBRI}>Omental fat pad</Txt>
      <Txt x={693.7} y={613} size={9} font={CALIBRI}>SK-N-SH</Txt>
      <Txt x={96} y={760} size={9} font={CALIBRI}>{"H3K4me3  signal"}</Txt>
      <Txt x={250} y={758} size={9} font={CALIBRI}>{"CTCF  signal"}</Txt>
      <Txt x={411.7} y={759} size={9} font={CALIBRI}>DNase-seq signal</Txt>
      <Txt x={559.7} y={758} size={9} font={CALIBRI}>DNase-seq signal</Txt>
      <Txt x={693} y={761} size={9} font={CALIBRI}>DNase-seq signal</Txt>
      <Txt x={134} y={738} size={9.5} font={CALIBRI}>PCC : 0.498</Txt>
      <Txt x={295} y={739} size={9.5} font={CALIBRI}>PCC : 0.320</Txt>
      <Txt x={441.7} y={732} size={9.5} font={CALIBRI}>PCC : 0.927</Txt>
      <Txt x={583} y={732} size={9.5} font={CALIBRI}>PCC : 0.901</Txt>
      <Txt x={732} y={732} size={9.5} font={CALIBRI}>PCC : 0.821</Txt>
    </div>
  );
}
